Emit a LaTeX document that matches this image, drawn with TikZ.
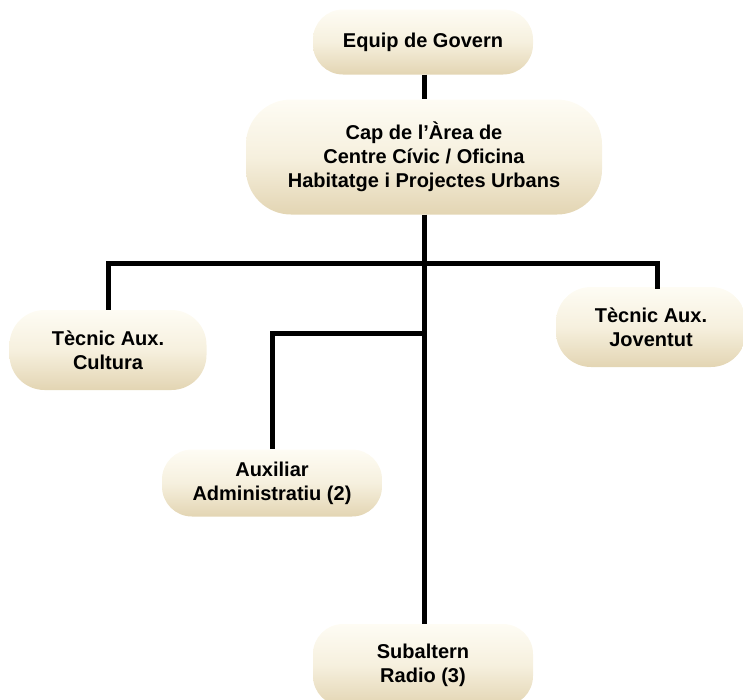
\documentclass[tikz,border=0pt]{standalone}
\usepackage{fontspec}
\setmainfont{Liberation Sans}
\begin{document}
\begin{tikzpicture}[x=1pt,y=-1pt,
  box/.style={rounded corners=30pt, top color=boxtop, bottom color=boxbot, middle color=boxmid,
    align=center, font=\fontsize{20}{24}\selectfont\bfseries, inner sep=0pt},
  conn/.style={line width=5pt, line cap=butt}]
\definecolor{boxtop}{HTML}{FEFCF4}
\definecolor{boxmid}{HTML}{F6F0DE}
\definecolor{boxbot}{HTML}{E3D5B3}
\useasboundingbox (0,0) rectangle (743,699);
\node[box, minimum width=220pt, minimum height=65pt] (gov) at (423,42) {Equip de Govern};
\node[box, minimum width=356pt, minimum height=115pt, rounded corners=45pt] (cap) at (424,157) {Cap de l’Àrea de\\Centre Cívic / Oficina\\Habitatge i Projectes Urbans};
\node[box, minimum width=197pt, minimum height=80pt, rounded corners=35pt] (cult) at (108,350) {Tècnic Aux.\\Cultura};
\node[box, minimum width=190pt, minimum height=80pt, rounded corners=35pt] (jov) at (651,327) {Tècnic Aux.\\Joventut};
\node[box, minimum width=220pt, minimum height=67pt] (aux) at (272,483) {Auxiliar\\Administratiu (2)};
\node[box, minimum width=220pt, minimum height=82pt] (sub) at (423,665) {Subaltern\\Radio (3)};
\coordinate (trunk) at (424,0);
\coordinate (barL) at (108,263);
\coordinate (barR) at (657,263);
\coordinate (jovTop) at (657,289);
\coordinate (auxBar) at (424,333);
\coordinate (auxCorner) at (272,333);
\draw[conn] (gov.south -| trunk) -- (cap.north -| trunk);
\draw[conn] (cap.south -| trunk) -- (sub.north -| trunk);
\draw[conn] (cult.north) -- (barL) -- (barR) -- (jovTop);
\draw[conn] (auxBar) -- (auxCorner) -- (aux.north);
\end{tikzpicture}
\end{document}
